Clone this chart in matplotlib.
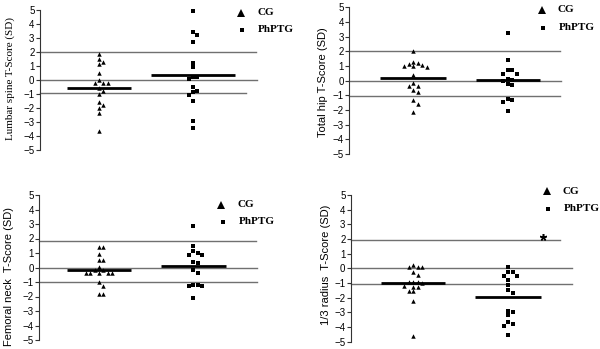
import matplotlib
matplotlib.use('Agg')
import matplotlib.pyplot as plt
from matplotlib.lines import Line2D
import numpy as np

# data (T-score, SD)
groups = ['CG', 'PhPTG']

lumbar_cg = [1.86, 1.48, 1.29, 1.12, 0.52, 0.0, -0.21, -0.21, -0.21, -0.59, -0.76,
             -1.0, -1.57, -1.79, -2.02, -2.38, -3.62]
lumbar_ph = [4.95, 3.45, 3.2, 2.74, 1.21, 0.9, 0.24, 0.2, 0.1, -0.52, -0.76, -0.88,
             -1.05, -1.48, -2.95, -3.43]
lumbar_mean = [-0.55, 0.38]

hip_cg = [2.0, 1.3, 1.18, 1.16, 1.09, 1.0, 1.0, 0.93, 0.38, -0.18, -0.39, -0.39,
          -0.66, -0.78, -1.34, -1.62, -2.14]
hip_ph = [3.22, 1.43, 0.7, 0.7, 0.43, 0.43, 0.1, 0.02, 0.0, -0.2, -0.32, -1.25,
          -1.3, -1.45, -2.08]
hip_mean = [0.16, 0.07]

neck_cg = [1.4, 1.4, 0.9, 0.5, 0.5, 0.02, -0.15, -0.15, -0.4, -0.4, -0.4, -0.4,
           -0.4, -1.0, -1.25, -1.82, -1.82]
neck_ph = [2.85, 1.49, 1.13, 1.01, 0.83, 0.83, 0.39, 0.28, -0.18, -0.39, -1.22,
           -1.22, -1.29, -1.29, -2.12]
neck_mean = [-0.17, 0.1]

radius_cg = [0.25, 0.07, 0.07, 0.07, -0.25, -0.43, -0.92, -0.95, -0.95, -0.98, -1.2,
             -1.25, -1.3, -1.55, -1.55, -2.25, -4.62]
radius_ph = [0.1, -0.25, -0.25, -0.5, -0.52, -0.8, -1.16, -1.5, -1.66, -2.9, -3.0,
             -3.2, -3.66, -3.77, -3.93, -4.52]
radius_mean = [-1.0, -1.95]

# reference lines (upper, zero, lower) as drawn in each panel
lumbar_ref = [1.98, 0, -0.95]
hip_ref = [2.02, 0, -1.05]
neck_ref = [1.86, 0, -1.03]
radius_ref = [1.9, 0, -1.05]

ylabels = ['Lumbar spine T-Score (SD)', 'Total hip T-Score (SD)',
           'Femoral neck  T-Score (SD)', '1/3 radius  T-Score (SD)']

W, H = 600, 349
SERIF = ['Liberation Serif', 'DejaVu Serif']
SANS = ['Liberation Sans', 'DejaVu Sans']

fig = plt.figure(figsize=(6, 3.49), dpi=100)


def fx(px):
    return px / W


def fy(py):
    return 1 - py / H


def swarm(vals, thr=0.3, step=0.047):
    # simple beeswarm: centre first, then right, left, ...
    order = np.argsort(vals)[::-1]
    placed = []
    offs = np.zeros(len(vals))
    for i in order:
        v = vals[i]
        for k in [0, 1, -1, 2, -2, 3, -3]:
            if all(not (s == k and abs(v - pv) < thr) for s, pv in placed):
                placed.append((k, v))
                offs[i] = k * step
                break
    return offs


def panel(geo, cg, ph, means, refs, ref_ends, bar_half, ylabel, label_font, label_pos, legend_pos):
    L, y5, ym5, xcg, xph = geo
    s = xph - xcg
    R = L + 235
    ax = fig.add_axes([fx(L), fy(ym5), (R - L) / W, (ym5 - y5) / H])
    x0 = 1 - (xcg - L) / s
    ax.set_xlim(x0, 1 + (R - xcg) / s)
    ax.set_ylim(-5, 5)
    for sp in ['top', 'right', 'bottom']:
        ax.spines[sp].set_visible(False)
    ax.spines['left'].set_color('#333333')
    ax.spines['left'].set_linewidth(0.8)
    ax.set_xticks([])
    ax.set_yticks(range(-5, 6))
    ax.tick_params(axis='y', length=3, width=0.8, color='#333333', pad=1, labelsize=7)
    for t in ax.get_yticklabels():
        t.set_family(SANS)

    for r, e in zip(refs, ref_ends):
        ax.plot([x0, 1 + (e - xcg) / s], [r, r], color='#707070', lw=1.0, zorder=1, clip_on=False)

    for gi, (vals, mk) in enumerate([(cg, '^'), (ph, 's')]):
        vals = np.array(vals)
        xs = gi + 1 + swarm(vals)
        ax.plot(xs, vals, ls='none', marker=mk, ms=2.8 if mk == 's' else 3.2,
                color='black', mew=0, zorder=3, clip_on=False)
        hw = bar_half[gi] / s
        ax.plot([gi + 1 - hw, gi + 1 + hw], [means[gi], means[gi]], color='black',
                lw=2.0, solid_capstyle='butt', zorder=4)

    fig.text(fx(label_pos[0]), fy(label_pos[1]), ylabel, rotation=90, ha='center', va='center',
             family=label_font, fontsize=8)

    (tx, ty), (sx, sy) = legend_pos
    fig.add_artist(Line2D([fx(tx)], [fy(ty)], marker='^', ms=5.2, color='black', mew=0, ls='none'))
    fig.add_artist(Line2D([fx(sx)], [fy(sy)], marker='s', ms=3.4, color='black', mew=0, ls='none'))
    fig.text(fx(tx + 16), fy(ty), groups[0], ha='left', va='center', family=SERIF,
             weight='bold', fontsize=8)
    fig.text(fx(sx + 16), fy(sy), groups[1], ha='left', va='center', family=SERIF,
             weight='bold', fontsize=8)
    return ax


panel((40, 10, 150, 99, 193), lumbar_cg, lumbar_ph, lumbar_mean, lumbar_ref,
      (255.7, 256.7, 245.7), (32, 42), ylabels[0], SERIF, (10, 78.5),
      ((241, 12.5), (242, 29.5)))
panel((349.3, 7.3, 154, 413.3, 507.7), hip_cg, hip_ph, hip_mean, hip_ref,
      (560, 561, 560), (33, 32), ylabels[1], SANS, (323, 82.5),
      ((541.7, 10), (543, 27.5)))
panel((39.3, 195, 340, 99, 193.3), neck_cg, neck_ph, neck_mean, neck_ref,
      (255.7, 256.7, 256.7), (32, 32.5), ylabels[2], SANS, (9, 277),
      ((221, 204.5), (222.5, 222)))
panel((351, 195, 341.7, 413.3, 508.3), radius_cg, radius_ph, radius_mean, radius_ref,
      (560, 571.7, 571.7), (32, 33), ylabels[3], SANS, (326, 265),
      ((546.7, 191), (548, 208.5)))

# significance mark
fig.add_artist(Line2D([fx(542.7)], [fy(236.7)], marker=(5, 2, 0), ms=5, mew=1.1,
                      color='black', ls='none'))

fig.savefig('out.png', dpi=100, facecolor='white')
